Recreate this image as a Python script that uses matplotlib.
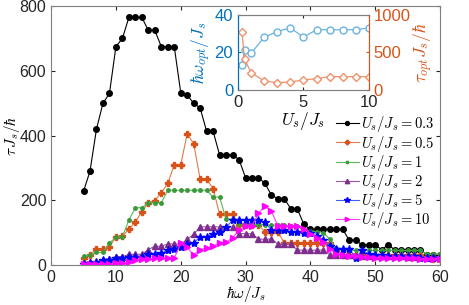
import matplotlib
matplotlib.use("Agg")
import matplotlib.pyplot as plt

plt.rcParams['font.family'] = ['Liberation Sans', 'DejaVu Sans']
plt.rcParams['mathtext.fontset'] = 'cm'

# main panel: lifetime vs drive frequency
omega = list(range(5, 61))
tau_03 = [228, 290, 420, 500, 530, 675, 700, 765, 765, 765,
          725, 725, 675, 675, 675, 533, 525, 500, 485, 413,
          413, 340, 340, 340, 326, 270, 270, 270, 252, 216,
          205, 205, 173, 173, 126, 110, 110, 110, 110, 110,
          110, 77, 77, 62, 62, 62, 48, 62, 48, 48,
          48, 48, 48, 31, 31, 31]
tau_05 = [21, 31, 49, 49, 56, 87, 90, 110, 133, 165,
          192, 199, 223, 252, 310, 310, 405, 375, 265, 265,
          236, 157, 157, 157, 123, 123, 123, 123, 103, 103,
          103, 67, 67, 67, 67, 67, 67, 67, 67, 46,
          31, 31, 31, 31, 31, 31, 31, 31, 31, 31,
          31, 31, 31, 22, 20, 20]
tau_1 = [28, 31, 39, 39, 67, 87, 88, 139, 177, 177,
         192, 192, 192, 231, 231, 231, 231, 231, 231, 231,
         210, 210, 142, 142, 128, 128, 125, 125, 125, 123,
         123, 123, 120, 120, 105, 105, 103, 100, 80, 52,
         45, 45, 45, 45, 45, 45, 45, 45, 45, 45,
         45, 45, 45, 33, 33, 33]
tau_2 = [5, 10, 10, 17, 20, 26, 26, 33, 33, 33,
         48, 58, 58, 65, 65, 65, 79, 95, 118, 118,
         118, 118, 118, 118, 97, 97, 97, 80, 80, 80,
         65, 65, 65, 46, 46, 46, 46, 46, 31, 31,
         31, 31, 28, 28, 28, 28, 28, 28, 28, 28,
         25, 25, 25, 25, 25, 25]
tau_5 = [3, 5, 8, 15, 15, 22, 22, 24, 24, 26,
         33, 33, 36, 46, 51, 56, 64, 67, 88, 88,
         95, 103, 116, 139, 139, 139, 139, 139, 133, 108,
         108, 108, 103, 103, 98, 98, 90, 78, 60, 50,
         50, 50, 22, 46, 35, 31, 31, 28, 28, 28,
         28, 28, 22, 22, 22, 22]
tau_10 = [2, 2, 2, 2, 2, 5, 5, 10, 15, 18,
          18, 21, 21, 21, 21, 67, 55, 31, 48, 52,
          60, 67, 70, 84, 108, 121, 121, 160, 182, 166,
          121, 121, 121, 121, 110, 95, 85, 70, 50, 35,
          30, 28, 28, 25, 25, 22, 22, 22, 22, 22,
          22, 22, 20, 20, 20, 20]

# inset: optimum vs interaction strength
U_vals = [0.3, 0.5, 1, 2, 3, 4, 5, 6, 7, 8, 9, 10]
omega_opt = [13.3, 21, 19.5, 28, 31, 33, 28, 32, 32, 32, 32, 33]
tau_opt = [774, 408, 230, 120, 97, 105, 133, 150, 177, 177, 177, 177]

series = [
    (tau_03, '0.3', 'k', 'k', 'o', 4.0),
    (tau_05, '0.5', '#e07a4a', '#d95319', 'P', 4.5),
    (tau_1, '1', '#5cb85c', '#3a9a3a', 'o', 2.5),
    (tau_2, '2', '#9a5aa8', '#7e2f8e', '^', 4.5),
    (tau_5, '5', '#4060ff', '#0000ff', '*', 6.0),
    (tau_10, '10', '#ff40ff', '#ff00ff', '>', 4.5),
]

fig = plt.figure(figsize=(4.69, 3.05), dpi=100)
ax = fig.add_axes([0.109, 0.131, 0.829, 0.849])

for vals, lab, lc, mc, mk, ms in series:
    ax.plot(omega, vals, color=lc, lw=0.8, marker=mk, ms=ms,
            mfc=mc, mec=mc, label=r'$U_s/J_s=%s$' % lab)

ax.set_xlim(0, 60)
ax.set_ylim(0, 800)
ax.set_xticks([0, 10, 20, 30, 40, 50, 60])
ax.set_yticks([0, 200, 400, 600, 800])
ax.tick_params(direction='in', top=True, right=True, labelsize=11.5,
               colors='#262626', length=3)
for s in ax.spines.values():
    s.set_color('#808080')
ax.set_xlabel(r'$\hbar\omega/J_s$', fontsize=11)
ax.set_ylabel(r'$\tau\, J_s/\hbar$', fontsize=11)
ax.xaxis.set_label_coords(0.5, -0.073)
ax.yaxis.set_label_coords(-0.076, 0.5)

leg = fig.legend(*ax.get_legend_handles_labels(), loc='upper left',
                 bbox_to_anchor=(0.716, 0.625), frameon=False,
                 fontsize=10.5, handlelength=1.6, handletextpad=0.15,
                 labelspacing=-0.06, borderaxespad=0, borderpad=0,
                 markerscale=0.7)

# inset
ins = fig.add_axes([0.5075, 0.705, 0.279, 0.247])
blue_ax = '#0072bd'
orange_ax = '#d95319'
ins.plot(U_vals, omega_opt, color='#6ab4e0', lw=0.9, marker='o', ms=5,
         mfc='white', mec='#6ab4e0')
ins.set_xlim(0, 10)
ins.set_ylim(0, 40)
ins.set_xticks([0, 5, 10])
ins.set_yticks([0, 20, 40])
ins.tick_params(direction='in', labelsize=12, length=2.5, top=True)
ins.tick_params(axis='y', colors=blue_ax)
ins.tick_params(axis='x', colors='#262626')
ins.set_ylabel(r'$\hbar\omega_{opt}/J_s$', color=blue_ax, fontsize=12.5, labelpad=1)
ins.set_xlabel(r'$U_s/J_s$', fontsize=12.5, labelpad=0)

ins2 = ins.twinx()
ins2.plot(U_vals, tau_opt, color='#f0916a', lw=0.9, marker='D', ms=4.5,
          mfc='white', mec='#f0916a')
ins2.set_ylim(0, 1000)
ins2.set_yticks([0, 500, 1000])
ins2.tick_params(direction='in', labelsize=12, length=2.5, colors=orange_ax)
ins2.set_ylabel(r'$\tau_{opt}J_s/\hbar$', color=orange_ax, fontsize=12.5, labelpad=1)
for a in (ins, ins2):
    a.spines['left'].set_color(blue_ax)
    a.spines['right'].set_color(orange_ax)
    a.spines['top'].set_color('#808080')
    a.spines['bottom'].set_color('#808080')

fig.savefig('out.png', dpi=100)
